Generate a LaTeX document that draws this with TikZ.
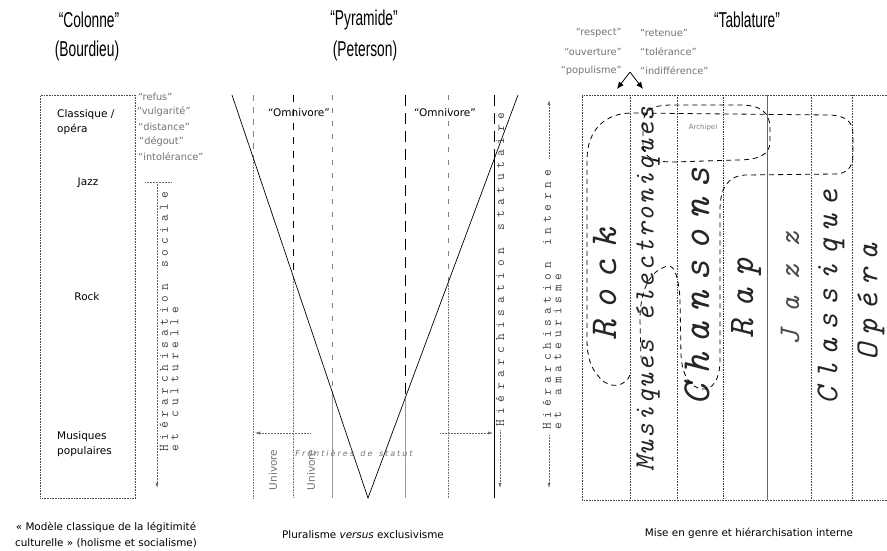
\documentclass[tikz,border=0pt]{standalone}
\usepackage{fontspec}
\usepackage{graphicx}
\usetikzlibrary{arrows.meta}
\newfontfamily\vfont{DejaVu Sans}[ItalicFont={DejaVu Sans Oblique}]
\newfontfamily\tfont{Liberation Sans}
\ExplSyntaxOn
\NewDocumentCommand\spc{mm}{\tl_map_inline:nn{#2}{##1\hspace{#1}}\hspace{-#1}}
\ExplSyntaxOff
\newcommand\cond[1]{\scalebox{0.64}[1]{#1}}
\begin{document}
\begin{tikzpicture}[x=1pt,y=-1pt,
  ttl/.style={font=\tfont\fontsize{21.5}{22}\selectfont, inner sep=0},
  lab/.style={font=\vfont\fontsize{10.5}{15}\selectfont, inner sep=0},
  word/.style={font=\vfont\fontsize{9.8}{11}\selectfont, text=black!55, inner sep=0},
  capt/.style={font=\vfont\fontsize{10.4}{16}\selectfont, inner sep=0, align=center},
  vmono/.style={font=\ttfamily\fontsize{13}{10.5}\selectfont, text=black!75, rotate=90, inner sep=0, align=left},
  tab/.style={rotate=90, inner sep=0, text=black!85},
  thinline/.style={draw=black!60, line width=0.5pt, densely dotted},
  arr/.style={-{Latex[length=5pt,width=3pt]}},
  dotA/.style={draw=black!50, line width=0.5pt, dash pattern=on 6pt off 6pt},
  dotB/.style={draw=black!55, line width=0.6pt, densely dotted},
  dashK/.style={draw=black, line width=0.8pt, dash pattern=on 7pt off 7pt},
  dashG/.style={draw=black!50, line width=0.6pt, dash pattern=on 5pt off 8pt},
  dashL/.style={draw=black, line width=0.8pt, dash pattern=on 11pt off 7pt},
  solG/.style={draw=black!40, line width=0.6pt},
  tabline/.style={draw=black!70, line width=0.6pt, densely dotted},
  dsh/.style={draw=black, line width=0.8pt, dash pattern=on 5pt off 4pt}
]
\useasboundingbox (0,0) rectangle (887,550);

% ---------------- Left: Colonne ----------------
\node[ttl] (t1a) at (89,20) {\cond{“Colonne”}};
\node[ttl] (t1b) at (87,51) {\cond{(Bourdieu)}};
\node[draw=black!70, densely dotted, line width=0.6pt, minimum width=95pt, minimum height=403pt, inner sep=0, anchor=north west] (col) at (40,95) {};
\node[lab, anchor=west, align=left] (cl) at (57,122) {Classique /\\opéra};
\node[lab] (jz) at (88,183) {Jazz};
\node[lab] (rk) at (87,297) {Rock};
\node[lab, anchor=west, align=left] (mp) at (57,444) {Musiques\\populaires};

\node[word, anchor=west] (w1) at (138,97) {“refus”};
\node[word, anchor=west] (w2) at (137,112) {“vulgarité”};
\node[word, anchor=west] (w3) at (138,127) {“distance”};
\node[word, anchor=west] (w4) at (139,142) {“dégout”};
\node[word, anchor=west] (w5) at (138,157) {“intolérance”};

\coordinate (lt1) at (145,182); \coordinate (lt2) at (172,182);
\coordinate (la1) at (157,182); \coordinate (la2) at (157,488);
\draw[thinline] (lt1) -- (lt2);
\draw[thinline, arr] (la1) -- (la2);
\node[vmono, anchor=west] (lh) at (169,452) {\spc{4.8pt}{Hiérarchisation~sociale}\\\spc{4.8pt}{et~culturelle}};

\node[capt] (c1) at (106,535) {« Modèle classique de la légitimité\\culturelle » (holisme et socialisme)};

% ---------------- Middle: Pyramide ----------------
\node[ttl] (t2a) at (364,20) {\cond{“Pyramide”}};
\node[ttl] (t2b) at (365,51) {\cond{(Peterson)}};

\coordinate (v1t) at (253,95); \coordinate (v1m) at (253,157); \coordinate (v1b) at (253,498);
\coordinate (v2t) at (293,95); \coordinate (v2m) at (293,276); \coordinate (v2b) at (293,498);
\coordinate (v3t) at (332,95); \coordinate (v3m) at (332,391); \coordinate (v3b) at (332,498);
\coordinate (v4t) at (405,95); \coordinate (v4m) at (405,399); \coordinate (v4b) at (405,498);
\coordinate (v5t) at (448,95); \coordinate (v5m) at (448,283); \coordinate (v5b) at (448,498);
\coordinate (v6t) at (494,95); \coordinate (v6m) at (494,159); \coordinate (v6b) at (494,498);
\draw[dotA] (v1t) -- (v1m); \draw[dotB] (v1m) -- (v1b);
\draw[dashK] (v2t) -- (v2m); \draw[dotB] (v2m) -- (v2b);
\draw[dashG] (v3t) -- (v3m); \draw[solG] (v3m) -- (v3b);
\draw[dashL] (v4t) -- (v4m); \draw[solG] (v4m) -- (v4b);
\draw[dashG] (v5t) -- (v5m); \draw[dotB] (v5m) -- (v5b);
\draw[dashL] (v6t) -- (v6m); \draw[draw=black, line width=0.8pt] (v6m) -- (v6b);

\coordinate (pL) at (232,95); \coordinate (pB) at (368,498); \coordinate (pR) at (518,95);
\draw[line width=0.7pt] (pL) -- (pB) -- (pR);

\node[lab] (om1) at (299,113) {“Omnivore”};
\node[lab] (om2) at (445,113) {“Omnivore”};
\node[lab, rotate=90, text=black!55] (u1) at (273,470) {Univore};
\node[lab, rotate=90, text=black!55] (u2) at (311,470) {Univore};
\node[font=\vfont\itshape\fontsize{8}{9}\selectfont, text=black!55, inner sep=0] (fr) at (355,453) {\spc{2pt}{Frontières~de~statut}};

\coordinate (ha1) at (310,433); \coordinate (ha2) at (255,433);
\coordinate (hb1) at (440,433); \coordinate (hb2) at (493,433);
\draw[thinline, arr] (ha1) -- (ha2);
\draw[thinline, arr] (hb1) -- (hb2);

\node[vmono, anchor=west] (mh) at (500,427) {\spc{5.6pt}{Hiérarchisation~statutaire}};
\coordinate (ma1) at (500,430); \coordinate (ma2) at (500,488);
\draw[thinline, arr] (ma1) -- (ma2);

\node[capt] (c2) at (363,535) {Pluralisme \textit{versus} exclusivisme};

% ---------------- Right: Tablature ----------------
\node[ttl] (t3) at (747,20) {\cond{“Tablature”}};
\node[word, anchor=east] (r1) at (622,33) {“respect”};
\node[word, anchor=east] (r2) at (622,52) {“ouverture”};
\node[word, anchor=east] (r3) at (622,71) {“populisme”};
\node[word, anchor=west] (r4) at (640,33) {“retenue”};
\node[word, anchor=west] (r5) at (640,52) {“tolérance”};
\node[word, anchor=west] (r6) at (640,71) {“indifférence”};
\coordinate (ap) at (630,72); \coordinate (al) at (617,89); \coordinate (ar) at (643,89);
\draw[line width=0.8pt, -{Latex[length=7pt,width=6pt]}] (ap) -- (al);
\draw[line width=0.8pt, -{Latex[length=7pt,width=6pt]}] (ap) -- (ar);

\node[vmono, anchor=west] (rh) at (552,430) {\spc{4.8pt}{Hiérarchisation~interne}\\\spc{4.8pt}{et~amateurisme}};
\coordinate (ru1) at (549,158); \coordinate (ru2) at (549,100);
\coordinate (rd1) at (549,435); \coordinate (rd2) at (549,488);
\draw[thinline, arr] (ru1) -- (ru2);
\draw[thinline, arr] (rd1) -- (rd2);

\coordinate (tb0) at (582,95); \coordinate (tb1) at (887,95);
\coordinate (bb0) at (582,500); \coordinate (bb1) at (887,500);
\draw[tabline] (tb1) -- (tb0) -- (bb0) -- (bb1);
\coordinate (k1t) at (630,95); \coordinate (k1b) at (630,500);
\coordinate (k2t) at (677,95); \coordinate (k2b) at (677,500);
\coordinate (k3t) at (723,95); \coordinate (k3b) at (723,500);
\coordinate (k4t) at (767,95); \coordinate (k4b) at (767,500);
\coordinate (k5t) at (811,95); \coordinate (k5b) at (811,500);
\coordinate (k6t) at (852,95); \coordinate (k6b) at (852,500);
\draw[tabline] (k1t) -- (k1b);
\draw[tabline] (k2t) -- (k2b);
\draw[draw=black!80, line width=0.7pt, densely dotted] (k3t) -- (k3b);
\draw[draw=black!60, line width=0.7pt] (k4t) -- (k4b);
\draw[tabline] (k5t) -- (k5b);
\draw[tabline] (k6t) -- (k6b);

\node[tab, font=\ttfamily\itshape\fontsize{38}{38}\selectfont] (gRock) at (605,279) {\spc{11pt}{Rock}};
\node[tab, font=\ttfamily\itshape\fontsize{28}{28}\selectfont] (gMus) at (648,288) {\spc{2pt}{Musiques~électroniques}};
\node[tab, font=\ttfamily\itshape\fontsize{40}{40}\selectfont] (gCh) at (697,281) {\spc{10pt}{Chansons}};
\node[tab, font=\ttfamily\itshape\fontsize{36}{36}\selectfont] (gRap) at (746,292) {\spc{12pt}{Rap}};
\node[tab, font=\ttfamily\itshape\fontsize{30}{30}\selectfont, text=black!70] (gJz) at (790,280) {\spc{17pt}{Jazz}};
\node[tab, font=\ttfamily\itshape\fontsize{32}{32}\selectfont] (gCl) at (831,293) {\spc{8pt}{Classique}};
\node[tab, font=\ttfamily\itshape\fontsize{32}{32}\selectfont] (gOp) at (871,298) {\spc{8pt}{Opéra}};

% dashed regions
\draw[dsh] (630,375) .. controls (626,386) and (610,390) .. (600,378) .. controls (590,368) and (587,355) .. (587,340) -- (587,160) .. controls (587,130) and (605,113) .. (632,113) -- (830,115) .. controls (847,116) and (853,122) .. (853,135) -- (853,155) .. controls (853,168) and (846,174) .. (835,174) -- (745,175) .. controls (728,176) and (720,188) .. (720,210) -- (720,360) .. controls (720,380) and (712,390) .. (703,389) .. controls (690,388) and (682,375) .. (681,355) -- (680,300) .. controls (679,280) and (675,265) .. (668,266) .. controls (650,270) and (640,290) .. (640,320) -- (641,358);
\draw[dsh] (643,145) -- (643,125) .. controls (643,110) and (652,105) .. (672,105) -- (740,105) .. controls (760,105) and (770,112) .. (770,128) -- (770,142) .. controls (770,155) and (758,160) .. (737,160) -- (673,162) .. controls (655,162) and (643,158) .. (643,145);
\node[font=\vfont\fontsize{7}{8}\selectfont, text=black!50, inner sep=0] (arch) at (703,128) {Archipel};

\node[capt] (c3) at (749,533) {Mise en genre et hiérarchisation interne};
\end{tikzpicture}
\end{document}
